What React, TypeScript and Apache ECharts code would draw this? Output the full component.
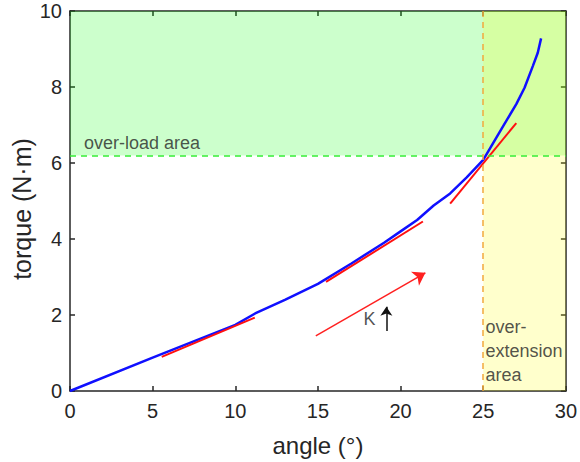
import React, { useEffect, useRef } from "react";
import * as echarts from "echarts";

const xTicks = { min: 0, max: 30, interval: 5 };
const yTicks = { min: 0, max: 10, interval: 2 };

const overloadLevel = 6.2;
const extensionAngle = 25;

const curveAngle = [0, 5, 10, 11.2, 13, 15, 17, 19, 20, 21, 22, 23, 24, 25, 26, 27, 27.5, 28, 28.3, 28.5];
const curveTorque = [0, 0.88, 1.74, 2.04, 2.4, 2.82, 3.35, 3.9, 4.2, 4.5, 4.88, 5.2, 5.62, 6.08, 6.82, 7.55, 7.98, 8.55, 8.9, 9.28];

const tangents: [number, number][][] = [
  [[5.55, 0.9], [11.18, 1.93]],
  [[15.49, 2.87], [21.35, 4.46]],
  [[23.0, 4.93], [27.0, 7.05]],
];

const trendArrow: [number, number][] = [[14.87, 1.45], [21.5, 3.11]];
const kArrow: [number, number][] = [[19.14, 1.58], [19.14, 2.22]];

const labels: { pos: [number, number]; text: string }[] = [
  { pos: [0.84, 6.53], text: "over-load area" },
  { pos: [25.13, 1.05], text: "over-\nextension\narea" },
  { pos: [17.75, 1.89], text: "K" },
];

const xTitle = "angle (°)";
const yTitle = "torque (N·m)";

const AXIS_COLOR = "#262626";
const FONT = "Liberation Sans, Arial, Helvetica, sans-serif";

export default function App() {
  const ref = useRef<HTMLDivElement>(null);
  useEffect(() => {
    document.body.style.margin = "0";
    const chart = echarts.init(ref.current!, undefined, { renderer: "svg" });
    const axisCommon = {
      type: "value" as const,
      splitLine: { show: false },
      axisLine: { show: true, onZero: false, lineStyle: { color: AXIS_COLOR, width: 1.5 } },
      axisTick: { show: true, inside: true, length: 5, lineStyle: { color: AXIS_COLOR, width: 1.5 } },
    };
    const curve = curveAngle.map((a, i) => [a, curveTorque[i]]);
    chart.setOption({
      animation: false,
      textStyle: { fontFamily: FONT },
      grid: { left: 70, right: 11, top: 11, bottom: 70 },
      graphic: [
        {
          type: "text",
          x: 22,
          y: 209,
          rotation: Math.PI / 2,
          style: {
            text: yTitle,
            fontSize: 25,
            fill: AXIS_COLOR,
            fontFamily: FONT,
            align: "center",
            verticalAlign: "middle",
          },
        },
      ],
      xAxis: [
        {
          ...axisCommon,
          ...xTicks,
          name: xTitle,
          nameLocation: "middle",
          nameGap: 42,
          nameTextStyle: { fontSize: 24, color: AXIS_COLOR, fontFamily: FONT },
          axisLabel: { fontSize: 20, color: AXIS_COLOR, margin: 10, fontFamily: FONT },
        },
        { ...axisCommon, ...xTicks, position: "top", axisLabel: { show: false } },
      ],
      yAxis: [
        {
          ...axisCommon,
          ...yTicks,
          axisLabel: { fontSize: 20, color: AXIS_COLOR, margin: 8, fontFamily: FONT },
        },
        { ...axisCommon, ...yTicks, position: "right", axisLabel: { show: false } },
      ],
      series: [
        {
          type: "line",
          data: [],
          silent: true,
          markArea: {
            silent: true,
            data: [
              [
                { xAxis: xTicks.min, yAxis: overloadLevel, itemStyle: { color: "rgba(0,255,0,0.2)" } },
                { xAxis: xTicks.max, yAxis: yTicks.max },
              ],
              [
                { xAxis: extensionAngle, yAxis: yTicks.min, itemStyle: { color: "rgba(255,255,0,0.2)" } },
                { xAxis: xTicks.max, yAxis: yTicks.max },
              ],
            ],
          },
          markLine: {
            silent: true,
            symbol: "none",
            label: { show: false },
            data: [
              { yAxis: overloadLevel, lineStyle: { color: "#33ee33", type: [6, 5], width: 1.5 } },
              { xAxis: extensionAngle, lineStyle: { color: "#f2a93b", type: [6, 5], width: 1.5 } },
            ],
          },
        },
        {
          type: "line",
          data: curve,
          showSymbol: false,
          smooth: false,
          lineStyle: { color: "#1010ff", width: 2.5 },
          z: 3,
        },
        ...tangents.map((seg) => ({
          type: "line",
          data: seg,
          showSymbol: false,
          lineStyle: { color: "#ff1010", width: 2 },
          z: 4,
        })),
        {
          type: "line",
          data: [],
          z: 5,
          markLine: {
            silent: true,
            symbol: ["none", "arrow"],
            symbolSize: 12,
            label: { show: false },
            lineStyle: { color: "#ff2020", width: 1.5, type: "solid" },
            data: [[{ coord: trendArrow[0] }, { coord: trendArrow[1] }]],
          },
        },
        {
          type: "line",
          data: [],
          z: 5,
          markLine: {
            silent: true,
            symbol: ["none", "arrow"],
            symbolSize: 9,
            label: { show: false },
            lineStyle: { color: "#111111", width: 1.5, type: "solid" },
            data: [[{ coord: kArrow[0] }, { coord: kArrow[1] }]],
          },
        },
        {
          type: "scatter",
          symbolSize: 0,
          data: labels.map((l) => ({ value: l.pos, name: l.text })),
          label: {
            show: true,
            position: [0, 0],
            align: "left",
            verticalAlign: "middle",
            formatter: (p: any) => p.name,
            fontSize: 18,
            lineHeight: 24,
            color: AXIS_COLOR,
            fontFamily: FONT,
          },
          z: 5,
        },
      ],
    });
    return () => chart.dispose();
  }, []);
  return <div ref={ref} style={{ width: 580, height: 462 }} />;
}
